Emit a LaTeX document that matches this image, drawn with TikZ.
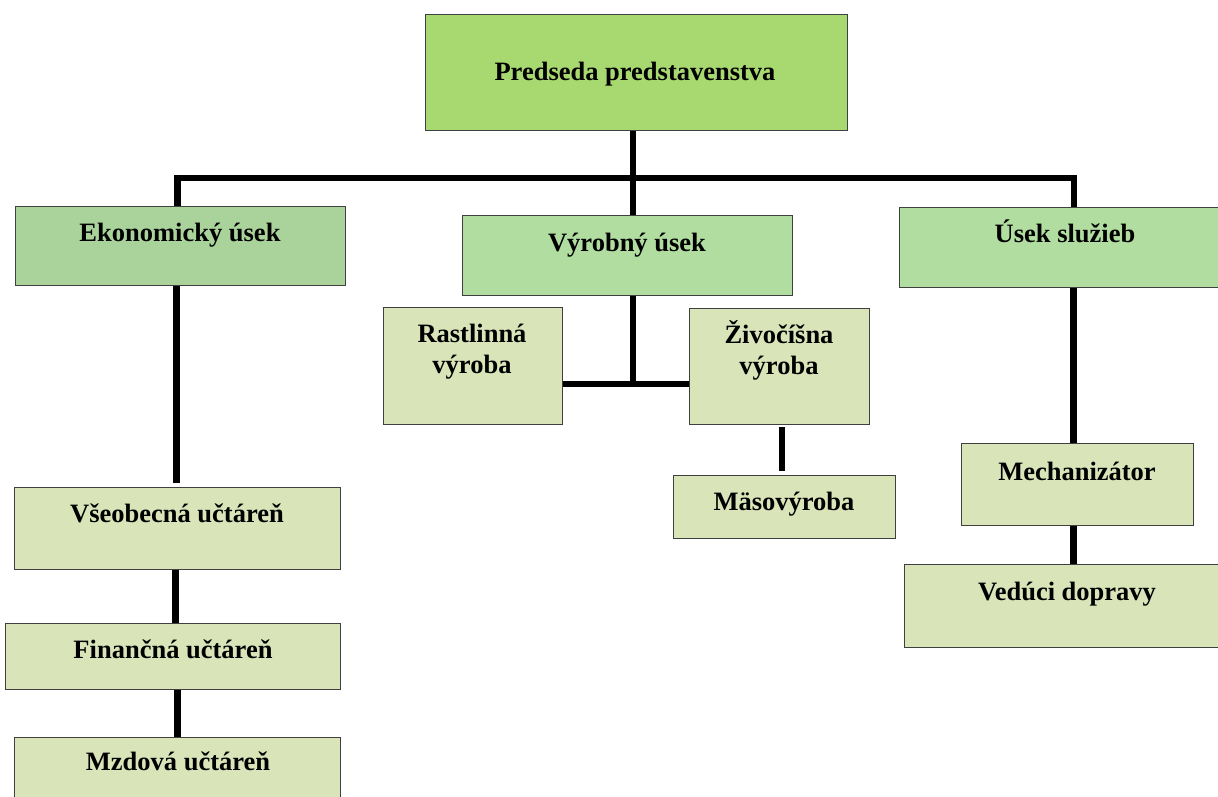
\documentclass[tikz,border=0pt]{standalone}
\usepackage{fontspec}
\setmainfont{Liberation Serif}
\usetikzlibrary{backgrounds}
\definecolor{cPres}{HTML}{A8D870}
\definecolor{cEko}{HTML}{A9D39B}
\definecolor{cMid}{HTML}{B1DEA0}
\definecolor{cLight}{HTML}{D9E4B9}
\tikzset{
  box/.style={draw=black!75, line width=1pt, inner sep=0pt, outer sep=0pt, anchor=north west},
  lbl/.style={anchor=base, inner sep=0pt, font=\fontsize{26.5}{31}\selectfont\bfseries},
  conn/.style={line width=6.5pt, black, line join=miter, line cap=butt},
}
\begin{document}
\begin{tikzpicture}[x=1pt,y=-1pt]
\useasboundingbox (0,0) rectangle (1218,796);
\clip (0,0) rectangle (1218,796);
\coordinate (hub) at (633,178);
\coordinate (lx) at (177.5,0);
\coordinate (rx) at (1074,0);
% boxes
\node[box, fill=cPres, minimum width=422pt, minimum height=116pt] (pres) at (425,14) {};
\node[box, fill=cEko, minimum width=330pt, minimum height=79pt] (eko) at (15,206) {};
\node[box, fill=cMid, minimum width=330pt, minimum height=80pt] (vyr) at (462,215) {};
\node[box, fill=cMid, minimum width=330pt, minimum height=80pt] (sluz) at (899,207) {};
\node[box, fill=cLight, minimum width=179pt, minimum height=117pt] (rast) at (383,307) {};
\node[box, fill=cLight, minimum width=180pt, minimum height=116pt] (ziv) at (689,308) {};
\node[box, fill=cLight, minimum width=222pt, minimum height=63pt] (maso) at (673,475) {};
\node[box, fill=cLight, minimum width=232pt, minimum height=82pt] (mech) at (961,443) {};
\node[box, fill=cLight, minimum width=330pt, minimum height=83pt] (ved) at (904,564) {};
\node[box, fill=cLight, minimum width=326pt, minimum height=82pt] (vseo) at (14,487) {};
\node[box, fill=cLight, minimum width=335pt, minimum height=66pt] (fin) at (5,623) {};
\node[box, fill=cLight, minimum width=326pt, minimum height=80pt] (mzd) at (14,737) {};
% connectors behind boxes
\begin{scope}[on background layer]
\draw[conn] (pres.south -| hub) -- (vyr.north -| hub);
\draw[conn] (eko.north -| lx) |- (hub) -| (sluz.north -| rx);
\draw[conn, shorten >=4pt] (eko.south -| 176.5,0) -- (vseo.north -| 176.5,0);
\draw[conn] (vseo.south -| 175.5,0) -- (fin.north -| 175.5,0);
\draw[conn] (fin.south -| 177.5,0) -- (mzd.north -| 177.5,0);
\draw[conn] (vyr.south -| hub) -- (hub |- 0,384) coordinate (vj);
\draw[conn] (rast.east |- vj) -- (ziv.west |- vj);
\draw[conn, shorten <=3pt, shorten >=4pt] (ziv.south -| 782,0) -- (maso.north -| 782,0);
\draw[conn] (sluz.south -| 1073.5,0) -- (mech.north -| 1073.5,0);
\draw[conn] (mech.south -| 1073.5,0) -- (ved.north -| 1073.5,0);
\end{scope}
% labels
\node[lbl] (tpres) at (635,80) {Predseda predstavenstva};
\node[lbl] (teko) at (180,241) {Ekonomický úsek};
\node[lbl] (tvyr) at (627,251) {Výrobný úsek};
\node[lbl] (tsluz) at (1065,242) {Úsek služieb};
\node[lbl] (trast1) at (472,342) {Rastlinná};
\node[lbl] (trast2) at (472,373) {výroba};
\node[lbl] (tziv1) at (779,343) {Živočíšna};
\node[lbl] (tziv2) at (779,374) {výroba};
\node[lbl] (tmaso) at (784,510) {Mäsovýroba};
\node[lbl] (tmech) at (1077,480) {Mechanizátor};
\node[lbl] (tved) at (1067,600) {Vedúci dopravy};
\node[lbl] (tvseo) at (177,522) {Všeobecná učtáreň};
\node[lbl] (tfin) at (173,658) {Finančná učtáreň};
\node[lbl] (tmzd) at (178,770) {Mzdová učtáreň};
\end{tikzpicture}
\end{document}
